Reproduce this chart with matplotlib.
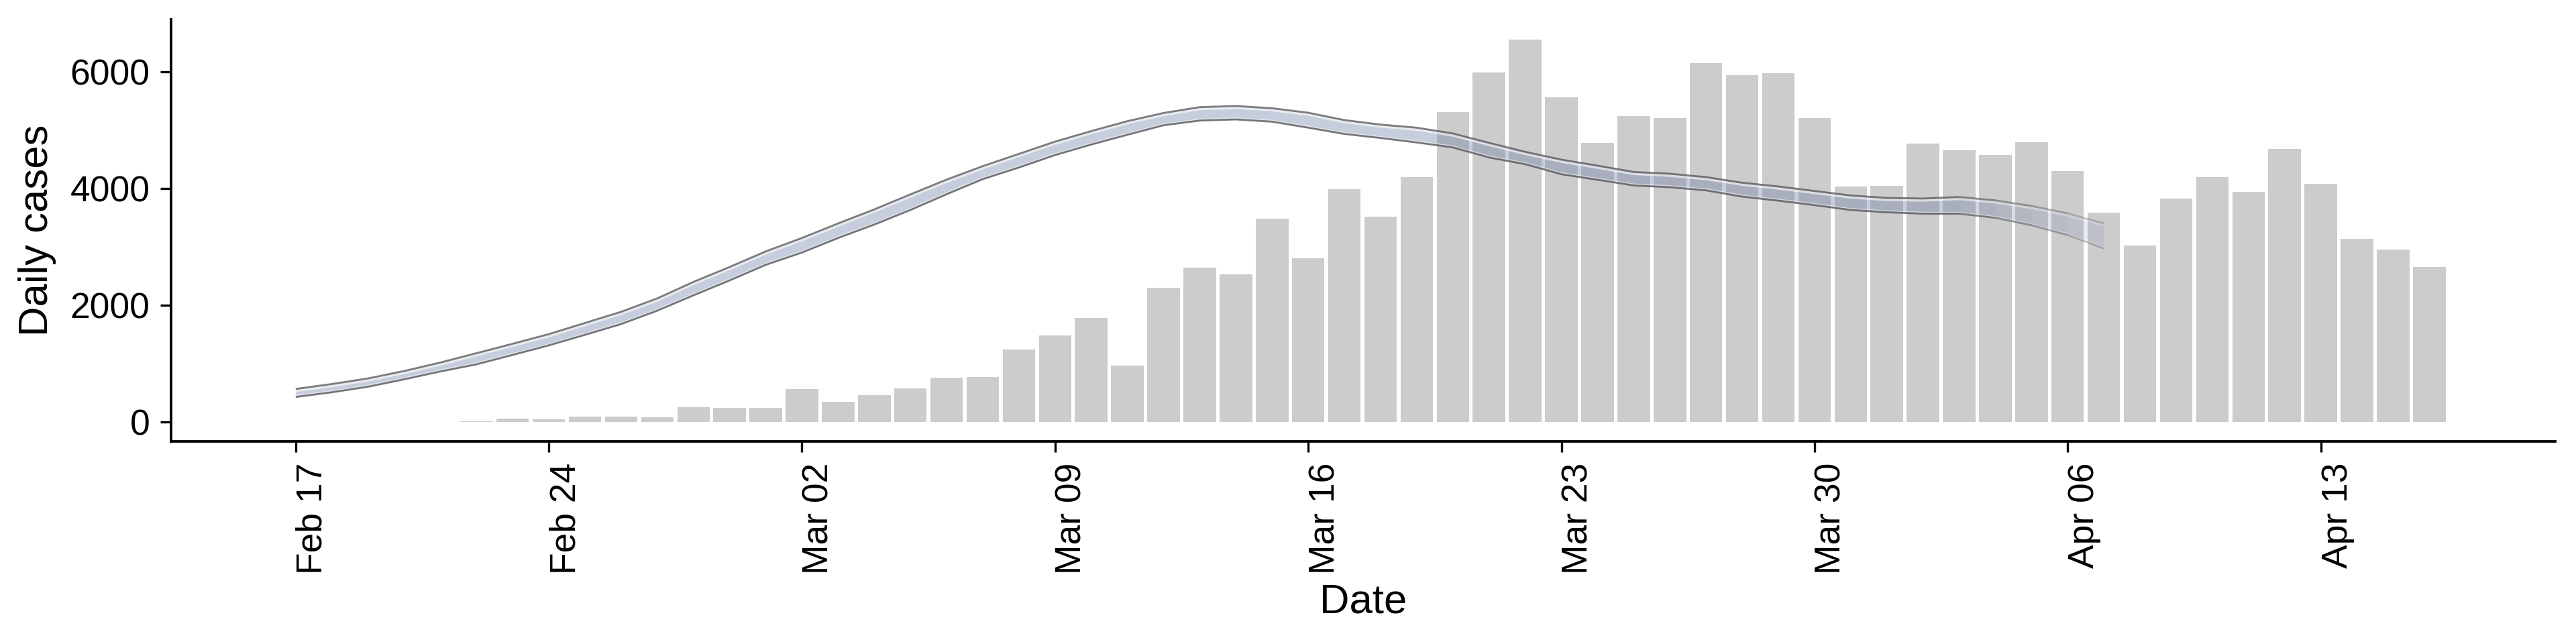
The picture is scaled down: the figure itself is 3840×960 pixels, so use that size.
import numpy as np
import pandas as pd
import matplotlib
matplotlib.use('Agg')
import matplotlib.pyplot as plt
import matplotlib.dates as mdates

plt.rcParams['font.family'] = ['Liberation Sans', 'DejaVu Sans']

# daily reported cases, Feb 17 .. Apr 16
caseDates = pd.date_range('2020-02-17', '2020-04-16')
cases = [0, 0, 0, 0, 0,
         15, 57, 46, 92, 92, 80, 253, 241,
         241, 562, 344, 459, 580, 764, 775, 1241, 1487, 1785, 970, 2302, 2646, 2532,
         3484, 2809, 3989, 3518, 4198, 5310, 5981, 6545, 5556, 4781, 5238, 5197, 6141,
         5941, 5971, 5207, 4035,
         4049, 4772, 4655, 4577, 4793, 4300, 3588, 3025, 3829, 4198, 3943, 4678, 4081,
         3142, 2957, 2655]

# smoothed estimate band, Feb 17 .. Apr 7
bandDates = pd.date_range('2020-02-17', '2020-04-07')
bandUpper = [568, 652, 748, 875, 1020, 1180, 1341, 1506, 1697, 1888, 2118, 2400, 2655,
             2922, 3151, 3400, 3640, 3897, 4150, 4380, 4590, 4800, 4980, 5150, 5290,
             5390, 5409, 5371, 5294, 5168, 5091, 5038, 4939, 4778, 4624, 4491, 4388,
             4280, 4250, 4192, 4096, 4032, 3955, 3878, 3836, 3826, 3852, 3794, 3699,
             3573, 3400]
bandLower = [431, 511, 606, 733, 867, 989, 1150, 1314, 1494, 1678, 1908, 2170, 2425,
             2692, 2902, 3151, 3381, 3630, 3900, 4158, 4357, 4570, 4750, 4917, 5080,
             5160, 5179, 5141, 5038, 4931, 4862, 4785, 4701, 4529, 4414, 4242, 4147,
             4050, 4020, 3966, 3859, 3790, 3714, 3630, 3591, 3567, 3567, 3496, 3369,
             3201, 2971]
nSolid = 47   # points drawn at full strength, the rest fades out
fadeLevels = [0.85, 0.7, 0.55, 0.4]

yTicks = [0, 2000, 4000, 6000]
tickDays = ['2020-02-17', '2020-02-24', '2020-03-02', '2020-03-09', '2020-03-16',
            '2020-03-23', '2020-03-30', '2020-04-06', '2020-04-13']

barGrey = '#CCCCCC'
bandFill = (114/255, 130/255, 168/255)
lineGrey = '#474747'


def drawBand(ax, x, lo, hi, f=1.0):
    poly = ax.fill_between(x, lo, hi, color=bandFill, alpha=0.40*f, lw=0, zorder=3)
    clip = poly.get_paths()[0]
    h1, = ax.plot(x, hi, color='white', lw=2.8, alpha=0.6*f, zorder=4, solid_capstyle='butt')
    h1.set_clip_path(clip, ax.transData)
    h2, = ax.plot(x, lo, color='white', lw=1.7, alpha=0.5*f, zorder=4, solid_capstyle='butt')
    h2.set_clip_path(clip, ax.transData)
    ax.plot(x, hi, color=lineGrey, lw=0.85, alpha=0.7*f, zorder=5, solid_capstyle='butt')
    ax.plot(x, lo, color=lineGrey, lw=0.85, alpha=0.7*f, zorder=5, solid_capstyle='butt')


fig = plt.figure(figsize=(16, 4), dpi=240)
ax = fig.add_axes([0.0665, 0.315, 0.9254, 0.6548])

xc = mdates.date2num(caseDates)
ax.bar(xc, cases, width=0.9, color=barGrey, lw=0, zorder=2)

xb = mdates.date2num(bandDates)
lo = np.array(bandLower, dtype=float)
hi = np.array(bandUpper, dtype=float)
drawBand(ax, xb[:nSolid], lo[:nSolid], hi[:nSolid])
for i, f in enumerate(fadeLevels):
    s = nSolid - 1 + i
    drawBand(ax, xb[s:s+2], lo[s:s+2], hi[s:s+2], f)

x0 = mdates.date2num(pd.Timestamp('2020-02-17'))
ax.set_xlim(x0 - 3.44, x0 + 62.48)
ax.set_ylim(-325, 6890)

ax.set_xticks(mdates.date2num(pd.to_datetime(tickDays)))
ax.xaxis.set_major_formatter(mdates.DateFormatter('%b %d'))
ax.set_yticks(yTicks)

for lab in ax.get_xticklabels():
    lab.set_rotation(90)
    lab.set_ha('left')
    lab.set_va('top')

ax.tick_params(axis='both', labelsize=16, length=4.8, width=1.0, pad=4.8, colors='black')
for side in ['top', 'right']:
    ax.spines[side].set_visible(False)
for side in ['left', 'bottom']:
    ax.spines[side].set_linewidth(1.15)

ax.set_xlabel('Date', fontsize=18.5, labelpad=4)
ax.set_ylabel('Daily cases', fontsize=18.5, labelpad=6)

fig.savefig('out.png', dpi=240)
